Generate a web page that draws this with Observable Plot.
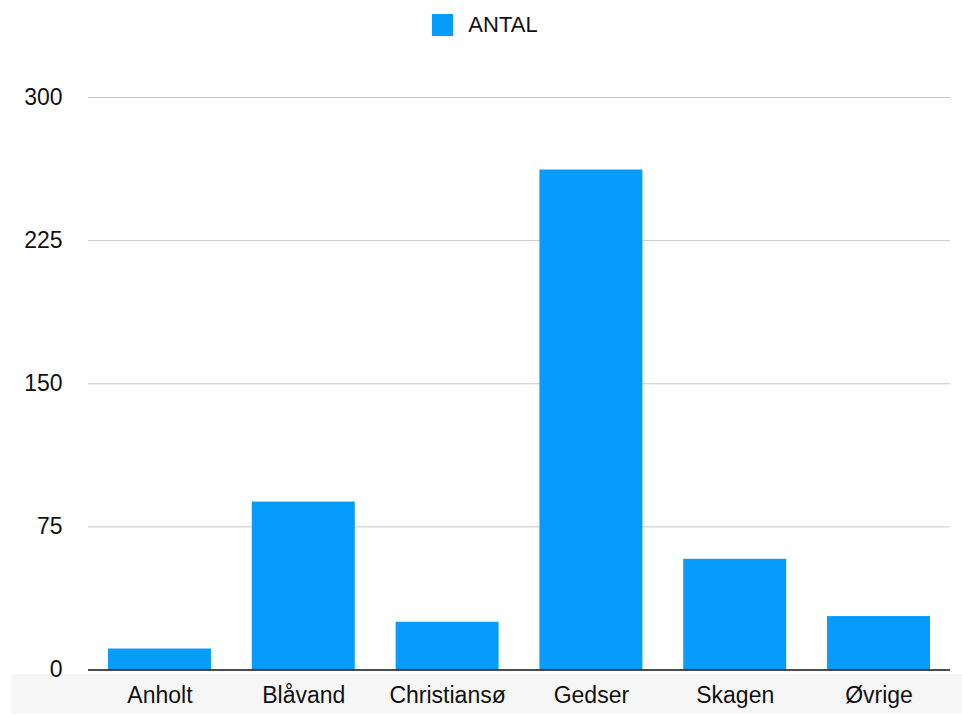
<!DOCTYPE html>
<html>
<head>
<meta charset="utf-8">
<script src="https://cdn.jsdelivr.net/npm/d3@7"></script>
<script src="https://cdn.jsdelivr.net/npm/@observablehq/plot@0.6"></script>
<style>
  html, body { margin: 0; padding: 0; background: #fff; }
  body { width: 962px; height: 715px; position: relative; overflow: hidden; font-family: "Liberation Sans", Arial, sans-serif; }
  #legend { height: 50px; display: flex; align-items: center; justify-content: center; gap: 15px; font-size: 22px; color: #111; padding-left: 8px; box-sizing: border-box; }
  #legend .sw { width: 21px; height: 22px; background: #069cfb; }
  #band { position: absolute; left: 11px; right: 0; top: 674px; height: 39px; background: #f6f6f6; }
  #chart { position: absolute; left: 0; top: 50px; }
  #chart svg { background: transparent !important; }
</style>
</head>
<body>
<div id="legend"><div class="sw"></div><span>ANTAL</span></div>
<div id="band"></div>
<div id="chart"></div>
<script>
const categories = ["Anholt", "Blåvand", "Christiansø", "Gedser", "Skagen", "Øvrige"];
const antal = [11, 88, 25, 262, 58, 28];
const yTicks = [0, 75, 150, 225, 300];
const seriesName = "ANTAL";

const data = categories.map((c, i) => ({ category: c, value: antal[i], series: seriesName }));

const chart = Plot.plot({
  width: 962,
  height: 665,
  marginTop: 47,
  marginBottom: 45.5,
  marginLeft: 88,
  marginRight: 12,
  style: { fontFamily: "'Liberation Sans', Arial, sans-serif", fontSize: "23px", color: "#111", background: "transparent" },
  x: { domain: categories, paddingInner: 0.284, paddingOuter: 0.139, round: false, label: null },
  y: { domain: [0, 300], ticks: yTicks, label: null },
  marks: [
    Plot.gridY(yTicks.filter(t => t > 0), { stroke: "#c8c8c8", strokeOpacity: 1, strokeWidth: 1 }),
    Plot.barY(data, { x: "category", y: "value", fill: "#069cfb" }),
    Plot.ruleY([0], { stroke: "#111", strokeWidth: 1.6 }),
    Plot.axisX({ tickSize: 0, tickPadding: 17, fontSize: 23, label: null }),
    Plot.axisY({ ticks: yTicks, tickSize: 0, tickPadding: 26, fontSize: 23, label: null })
  ]
});
document.getElementById("chart").appendChild(chart);
</script>
</body>
</html>
